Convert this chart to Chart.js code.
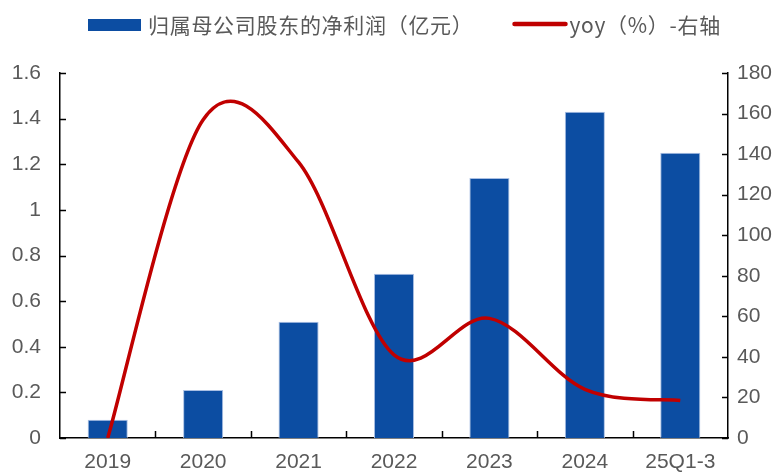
<!DOCTYPE html>
<html>
<head>
<meta charset="utf-8">
<script src="https://cdn.jsdelivr.net/npm/chart.js@4.4.0/dist/chart.umd.min.js"></script>
<style>
  html, body { margin: 0; padding: 0; background: #fff; }
  #wrap { width: 784px; height: 474px; }
</style>
</head>
<body>
<div id="wrap"><canvas id="c" width="784" height="474"></canvas></div>
<script>
// Categories and series
const categories = ['2019', '2020', '2021', '2022', '2023', '2024', '25Q1-3'];
const netProfit = [0.08, 0.21, 0.51, 0.72, 1.14, 1.43, 1.25];   // 亿元, left axis
const yoyGrowth = [0, 157, 136, 41, 59, 24, 18.5];              // %, right axis
const leftTicks = [0, 0.2, 0.4, 0.6, 0.8, 1, 1.2, 1.4, 1.6];
const rightTicks = [0, 20, 40, 60, 80, 100, 120, 140, 160, 180];

const barLabel = '归属母公司股东的净利润（亿元）';
const lineLabel = 'yoy（%）-右轴';

const BLUE = '#0C4DA2';
const RED = '#C00000';
const TEXT = '#595959';
const tickFont = { family: '"Liberation Sans", Arial, sans-serif', size: 21 };

// Uniform Catmull-Rom smoothing (control handles = 1/6 of the neighbour chord)
const smoothLine = {
  id: 'smoothLine',
  beforeDatasetDraw(chart, args) {
    const meta = args.meta;
    if (meta.type !== 'line') return;
    const pts = meta.data;
    const n = pts.length;
    for (let i = 0; i < n; i++) {
      const a = pts[Math.max(i - 1, 0)];
      const p = pts[i];
      const b = pts[Math.min(i + 1, n - 1)];
      const dx = (b.x - a.x) / 6;
      const dy = (b.y - a.y) / 6;
      p.cp1x = p.x - dx; p.cp1y = p.y - dy;
      p.cp2x = p.x + dx; p.cp2y = p.y + dy;
    }
    meta.dataset._pointsUpdated = true;
    meta.dataset._path = undefined;
  }
};

// Short tick marks pointing into the plot area, plus the legend row
const decorations = {
  id: 'decorations',
  afterDraw(chart) {
    const { ctx, chartArea: a } = chart;
    const { x, y, y1 } = chart.scales;
    ctx.save();
    ctx.strokeStyle = '#000';
    ctx.lineWidth = 1.5;
    ctx.beginPath();
    leftTicks.forEach(v => {
      const p = Math.round(y.getPixelForValue(v)) + 0.5;
      ctx.moveTo(a.left, p); ctx.lineTo(a.left + 6, p);
    });
    rightTicks.forEach(v => {
      const p = Math.round(y1.getPixelForValue(v)) + 0.5;
      ctx.moveTo(a.right, p); ctx.lineTo(a.right - 6, p);
    });
    for (let i = 1; i < categories.length; i++) {
      const p = Math.round((x.getPixelForValue(i - 1) + x.getPixelForValue(i)) / 2) + 0.5;
      ctx.moveTo(p, a.bottom); ctx.lineTo(p, a.bottom - 7);
    }
    ctx.stroke();

    // legend
    ctx.font = '21px "Noto Sans CJK SC", sans-serif';
    ctx.letterSpacing = '0.7px';
    ctx.textBaseline = 'middle';
    ctx.textAlign = 'left';
    const cy = 25;
    const symW = 53, gapSym = 7, gapItem = 39;
    const w1 = ctx.measureText(barLabel).width;
    let px = 88;
    ctx.fillStyle = BLUE;
    ctx.fillRect(px, cy - 6, symW, 12);
    px += symW + gapSym;
    ctx.fillStyle = TEXT;
    ctx.fillText(barLabel, px, cy);
    px += w1 + gapItem;
    ctx.strokeStyle = RED;
    ctx.lineWidth = 4.5;
    ctx.lineCap = 'round';
    ctx.beginPath();
    ctx.moveTo(px + 2, cy - 1); ctx.lineTo(px + symW, cy - 1);
    ctx.stroke();
    px += symW + 4;
    ctx.fillText(lineLabel, px, cy);
    ctx.restore();
  }
};

new Chart(document.getElementById('c'), {
  data: {
    labels: categories,
    datasets: [
      {
        type: 'bar',
        label: barLabel,
        data: netProfit,
        yAxisID: 'y',
        backgroundColor: BLUE,
        borderColor: '#A9BFE3',
        borderWidth: { left: 1, right: 1, top: 1, bottom: 0 },
        barPercentage: 0.42,
        categoryPercentage: 1,
        order: 2
      },
      {
        type: 'line',
        label: lineLabel,
        data: yoyGrowth,
        yAxisID: 'y1',
        borderColor: RED,
        borderWidth: 3.5,
        tension: 0.4,
        pointRadius: 0,
        fill: false,
        order: 1
      }
    ]
  },
  options: {
    responsive: false,
    animation: false,
    layout: { padding: { top: 73, left: 0, right: 0, bottom: 0 } },
    plugins: { legend: { display: false }, tooltip: { enabled: false } },
    scales: {
      x: {
        offset: true,
        grid: { display: false, drawTicks: false },
        border: { color: '#000', width: 1.5 },
        ticks: { color: TEXT, font: tickFont, padding: 12, maxRotation: 0 },
        afterFit: s => { s.height = 36; }
      },
      y: {
        position: 'left',
        min: 0, max: 1.6,
        grid: { display: false, drawTicks: false },
        border: { color: '#000', width: 1.5 },
        afterBuildTicks: s => { s.ticks = leftTicks.map(v => ({ value: v })); },
        ticks: { color: TEXT, font: tickFont, padding: 19, callback: v => String(v) },
        afterFit: s => { s.width = 60; }
      },
      y1: {
        position: 'right',
        min: 0, max: 180,
        grid: { display: false, drawTicks: false },
        border: { color: '#000', width: 1.5 },
        afterBuildTicks: s => { s.ticks = rightTicks.map(v => ({ value: v })); },
        ticks: { color: TEXT, font: tickFont, padding: 9, callback: v => String(v) },
        afterFit: s => { s.width = 56; }
      }
    }
  },
  plugins: [smoothLine, decorations]
});
</script>
</body>
</html>
